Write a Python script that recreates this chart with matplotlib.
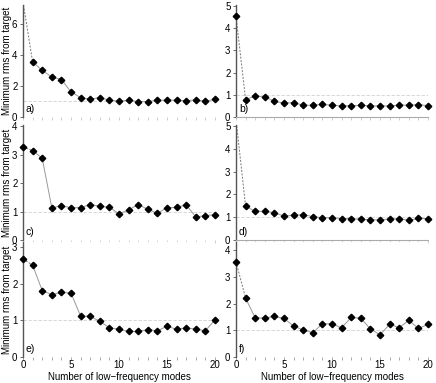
import numpy as np
import matplotlib.pyplot as plt

plt.rcParams['font.family'] = ['Liberation Sans', 'DejaVu Sans']
plt.rcParams['font.size'] = 7

# --- Data ---
modes = np.arange(21)

rms_a = [7.4, 3.55, 2.99, 2.58, 2.41, 1.61, 1.25, 1.14, 1.25, 1.08, 1.01,
         1.08, 0.99, 0.99, 1.08, 1.08, 1.08, 1.05, 1.10, 1.01, 1.14]
rms_b = [4.55, 0.78, 0.95, 0.90, 0.71, 0.63, 0.65, 0.53, 0.53, 0.57, 0.53,
         0.50, 0.51, 0.53, 0.50, 0.50, 0.50, 0.54, 0.53, 0.56, 0.51]
rms_c = [3.27, 3.15, 2.88, 1.14, 1.20, 1.14, 1.14, 1.25, 1.19, 1.15, 0.92,
         1.06, 1.25, 1.08, 0.94, 1.14, 1.15, 1.24, 0.81, 0.86, 0.89]
rms_d = [5.3, 1.48, 1.26, 1.26, 1.20, 1.05, 1.09, 1.11, 1.03, 0.98, 0.98,
         0.94, 0.94, 0.91, 0.89, 0.88, 0.92, 0.94, 0.86, 0.95, 0.94]
rms_e = [2.68, 2.52, 1.82, 1.71, 1.77, 1.75, 1.12, 1.11, 0.98, 0.80, 0.76,
         0.70, 0.70, 0.75, 0.72, 0.84, 0.76, 0.80, 0.76, 0.72, 1.02]
rms_f = [3.56, 2.20, 1.46, 1.46, 1.52, 1.44, 1.16, 1.01, 0.91, 1.24, 1.24,
         1.09, 1.48, 1.45, 1.05, 0.83, 1.22, 1.10, 1.37, 1.07, 1.22]

panel_labels = ['a)', 'b)', 'c)', 'd)', 'e)', 'f)']
series = [rms_a, rms_b, rms_c, rms_d, rms_e, rms_f]
ylims = [7.2, 5.05, 4.05, 5.05, 3.15, 4.3]
yticks = [[0, 2, 4, 6], [0, 1, 2, 3, 4, 5], [0, 1, 2, 3, 4],
          [0, 1, 2, 3, 4, 5], [0, 1, 2, 3], [0, 1, 2, 3, 4]]

fig = plt.figure(figsize=(4.36, 3.83), dpi=100)
W, H = 436, 383

# axes boxes in pixels: (left, right) and (top, bottom)
col_x = [(23, 215), (236, 428)]
row_y = [(5, 117), (125, 240), (242, 357)]

for i, (vals, lab) in enumerate(zip(series, panel_labels)):
    r, c = divmod(i, 2)
    x0, x1 = col_x[c]
    y0, y1 = row_y[r]
    ax = fig.add_axes([x0 / W, 1 - y1 / H, (x1 - x0) / W, (y1 - y0) / H])
    vals = np.array(vals)
    top = ylims[i]

    # reference level
    ax.plot([0, 20], [1, 1], color='#d0d0d0', lw=0.6, ls=(0, (4, 2)))
    # connecting line, first segment dashed
    ax.plot(modes[:2], vals[:2], color='#777777', lw=0.7, ls=(0, (2, 1.5)))
    ax.plot(modes[1:], vals[1:], color='#999999', lw=0.7)
    # markers (only those inside the plotted range)
    inside = vals <= top
    ax.plot(modes[inside], vals[inside], 'D', color='black', ms=3.3,
            clip_on=False, zorder=3)

    ax.set_xlim(0, 20)
    ax.set_ylim(0, top)
    ax.set_yticks(yticks[i])
    ax.text(0.015, 0.03, lab, transform=ax.transAxes, fontsize=7.5,
            ha='left', va='bottom')

    for s in ['top', 'right']:
        ax.spines[s].set_visible(False)
    ax.spines['left'].set_color('#555555')
    ax.spines['left'].set_linewidth(1.0)
    if lab in ('b)', 'd)'):
        ax.spines['bottom'].set_color('#aaaaaa')
        ax.spines['bottom'].set_linewidth(0.8)
    else:
        ax.spines['bottom'].set_visible(False)

    ax.tick_params(axis='y', length=2, width=0.6, pad=2, labelsize=7,
                   color='#555555')
    ax.set_xticks(range(0, 21, 5))
    ax.set_xticks(range(0, 21), minor=True)
    if r == 2:
        ax.tick_params(axis='x', which='both', length=2, width=0.5,
                       color='#888888', labelsize=7, pad=0.5)
        ax.set_xlabel('Number of low\u2212frequency modes', fontsize=7,
                      labelpad=1)
    else:
        ax.tick_params(axis='x', which='both', length=2, width=0.5,
                       color='#bbbbbb', labelbottom=False)
    if c == 0:
        ax.set_ylabel('Minimum rms from target', fontsize=7)
        ax.yaxis.set_label_coords(-0.055, 0.5)

fig.savefig('out.png', dpi=100)
